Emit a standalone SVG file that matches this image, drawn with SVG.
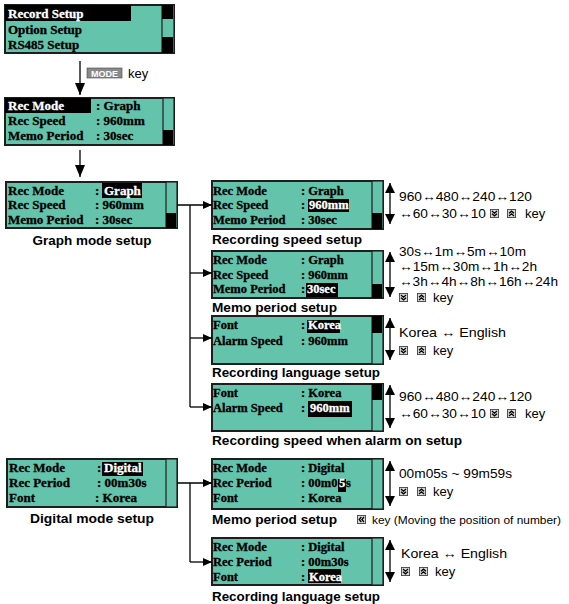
<svg xmlns="http://www.w3.org/2000/svg" xmlns:xlink="http://www.w3.org/1999/xlink" width="569" height="604" viewBox="0 0 569 604">
<style>
.lcd{fill:#64c3ab;stroke:#1e1e1e;stroke-width:2}
.sb{fill:#64c3ab;stroke:#1e1e1e;stroke-width:1.2}
.blk{fill:#000}
.t{font-family:"Liberation Serif","Times New Roman",serif;font-weight:bold;font-size:12.5px;fill:#000;stroke:#000;stroke-width:0.3}
.t1{font-size:13px}
.w{fill:#fff;stroke:#fff}
.lbl{font-family:"Liberation Sans",Arial,sans-serif;font-weight:bold;font-size:13px;fill:#000}
.note{font-family:"Liberation Sans",Arial,"DejaVu Sans",sans-serif;font-size:13px;fill:#000}
.note12{font-family:"Liberation Sans",Arial,sans-serif;font-size:11.8px;fill:#000}
.ln{stroke:#000;stroke-width:1.3;fill:none}
</style>
<defs>
<marker id="big" viewBox="0 0 12 10" refX="12" refY="5" markerWidth="12" markerHeight="10" markerUnits="userSpaceOnUse" orient="auto"><path d="M0,0 L12,5 L0,10 z"/></marker>
<marker id="sm" viewBox="0 0 9 8" refX="9" refY="4" markerWidth="9" markerHeight="8" markerUnits="userSpaceOnUse" orient="auto"><path d="M0,0 L9,4 L0,8 z"/></marker>
<marker id="dbl" viewBox="0 0 10 10" refX="10" refY="5" markerWidth="10" markerHeight="10" markerUnits="userSpaceOnUse" orient="auto-start-reverse"><path d="M0,0 L10,5 L0,10 z"/></marker>
<symbol id="kd" viewBox="0 0 10 10"><rect x="0.5" y="0.5" width="9" height="9" fill="#d8d8d8" stroke="#444" stroke-width="1"/><polyline points="2.2,2.2 5,4.6 7.8,2.2" fill="none" stroke="#000" stroke-width="1.4"/><polyline points="2.2,5.2 5,7.6 7.8,5.2" fill="none" stroke="#000" stroke-width="1.4"/></symbol>
<symbol id="ku" viewBox="0 0 10 10"><rect x="0.5" y="0.5" width="9" height="9" fill="#d8d8d8" stroke="#444" stroke-width="1"/><polyline points="2.2,4.8 5,2.4 7.8,4.8" fill="none" stroke="#000" stroke-width="1.4"/><polyline points="2.2,7.8 5,5.4 7.8,7.8" fill="none" stroke="#000" stroke-width="1.4"/></symbol>
<symbol id="kl" viewBox="0 0 10 10"><rect x="0.5" y="0.5" width="9" height="9" fill="#d8d8d8" stroke="#444" stroke-width="1"/><polyline points="4.8,2.2 2.4,5 4.8,7.8" fill="none" stroke="#000" stroke-width="1.4"/><polyline points="7.8,2.2 5.4,5 7.8,7.8" fill="none" stroke="#000" stroke-width="1.4"/></symbol>
</defs>
<rect width="569" height="604" fill="#fff"/>

<g id="menu">
<rect x="5" y="5" width="169" height="48" class="lcd"/>
<rect x="5" y="5" width="126" height="16" class="blk"/>
<rect x="162" y="5" width="12" height="48" class="sb"/>
<rect x="162" y="5" width="11" height="14" class="blk"/>
<rect x="162" y="37" width="11" height="16" class="blk"/>
<text x="8" y="18" class="t t1 w">Record Setup</text>
<text x="8" y="34" class="t t1">Option Setup</text>
<text x="8" y="49" class="t t1">RS485 Setup</text>
</g>

<g id="rec-mode">
<rect x="5" y="98" width="169" height="47" class="lcd"/>
<rect x="5" y="98" width="86" height="15" class="blk"/>
<rect x="163" y="98" width="11" height="47" class="sb"/>
<rect x="163" y="130" width="10" height="15" class="blk"/>
<text x="8" y="110" class="t t1 w">Rec Mode</text><text x="96" y="110" class="t t1">: Graph</text>
<text x="8" y="125" class="t t1">Rec Speed</text><text x="96" y="125" class="t t1">: 960mm</text>
<text x="8" y="140" class="t t1">Memo Period</text><text x="96" y="140" class="t t1">: 30sec</text>
</g>

<g id="graph-mode">
<rect x="6" y="182" width="171" height="46" class="lcd"/>
<rect x="166" y="182" width="11" height="46" class="sb"/>
<rect x="166" y="213" width="10" height="15" class="blk"/>
<rect x="102" y="183" width="40" height="15" class="blk"/>
<text x="8" y="195" class="t t1">Rec Mode</text><text x="95" y="195" class="t t1">:</text><text x="104" y="195" class="t t1 w">Graph</text>
<text x="8" y="209" class="t t1">Rec Speed</text><text x="95" y="209" class="t t1">: 960mm</text>
<text x="8" y="224" class="t t1">Memo Period</text><text x="95" y="224" class="t t1">: 30sec</text>
<text x="92" y="245" text-anchor="middle" class="lbl" textLength="119" lengthAdjust="spacingAndGlyphs">Graph mode setup</text>
</g>

<g id="rec-speed">
<rect x="212" y="181" width="171" height="48" class="lcd"/>
<rect x="372" y="181" width="11" height="48" class="sb"/>
<rect x="372" y="213" width="10" height="16" class="blk"/>
<rect x="308" y="199" width="41" height="13" class="blk"/>
<text x="213" y="195" class="t">Rec Mode</text><text x="301" y="195" class="t">: Graph</text>
<text x="213" y="209" class="t">Rec Speed</text><text x="301" y="209" class="t">:</text><text x="309" y="209" class="t w">960mm</text>
<text x="213" y="224" class="t">Memo Period</text><text x="301" y="224" class="t">: 30sec</text>
<text x="212" y="244" class="lbl" textLength="150" lengthAdjust="spacingAndGlyphs">Recording speed setup</text>
<text x="399" y="201" class="note" textLength="133" lengthAdjust="spacingAndGlyphs">960↔480↔240↔120</text>
<text x="399" y="218" class="note" textLength="87" lengthAdjust="spacingAndGlyphs">↔60↔30↔10</text>
<use xlink:href="#kd" x="490" y="209" width="9" height="9"/>
<use xlink:href="#ku" x="507" y="209" width="9" height="9"/>
<text x="525" y="218" class="note">key</text>
</g>

<g id="memo-period">
<rect x="212" y="251" width="171" height="47" class="lcd"/>
<rect x="372" y="251" width="11" height="47" class="sb"/>
<rect x="372" y="284" width="10" height="14" class="blk"/>
<rect x="306" y="283" width="32" height="14" class="blk"/>
<text x="213" y="264" class="t">Rec Mode</text><text x="301" y="264" class="t">: Graph</text>
<text x="213" y="279" class="t">Rec Speed</text><text x="301" y="279" class="t">: 960mm</text>
<text x="213" y="293" class="t">Memo Period</text><text x="301" y="293" class="t">:</text><text x="307" y="293" class="t w">30sec</text>
<text x="212" y="312" class="lbl" textLength="125" lengthAdjust="spacingAndGlyphs">Memo period setup</text>
<text x="399" y="256" class="note" textLength="127" lengthAdjust="spacingAndGlyphs">30s↔1m↔5m↔10m</text>
<text x="399" y="271" class="note" textLength="138" lengthAdjust="spacingAndGlyphs">↔15m↔30m↔1h↔2h</text>
<text x="399" y="286" class="note" textLength="159" lengthAdjust="spacingAndGlyphs">↔3h↔4h↔8h↔16h↔24h</text>
<use xlink:href="#kd" x="399" y="293" width="9" height="9"/>
<use xlink:href="#ku" x="417" y="293" width="9" height="9"/>
<text x="433" y="302" class="note">key</text>
</g>

<g id="rec-language">
<rect x="212" y="316" width="171" height="48" class="lcd"/>
<rect x="372" y="316" width="11" height="48" class="sb"/>
<rect x="372" y="316" width="10" height="17" class="blk"/>
<rect x="307" y="320" width="33" height="13" class="blk"/>
<text x="213" y="329" class="t">Font</text><text x="301" y="329" class="t">:</text><text x="308" y="329" class="t w">Korea</text>
<text x="213" y="345" class="t">Alarm Speed</text><text x="301" y="345" class="t">: 960mm</text>
<text x="212" y="377" class="lbl" textLength="168" lengthAdjust="spacingAndGlyphs">Recording language setup</text>
<text x="399" y="337" class="note" textLength="107" lengthAdjust="spacingAndGlyphs">Korea ↔ English</text>
<use xlink:href="#kd" x="399" y="346" width="9" height="9"/>
<use xlink:href="#ku" x="417" y="346" width="9" height="9"/>
<text x="433" y="355" class="note">key</text>
</g>

<g id="alarm-speed">
<rect x="212" y="384" width="171" height="47" class="lcd"/>
<rect x="372" y="384" width="11" height="47" class="sb"/>
<rect x="372" y="384" width="10" height="16" class="blk"/>
<rect x="308" y="401" width="44" height="16" class="blk"/>
<text x="213" y="397" class="t">Font</text><text x="301" y="397" class="t">: Korea</text>
<text x="213" y="412" class="t">Alarm Speed</text><text x="301" y="412" class="t">:</text><text x="310" y="412" class="t w">960mm</text>
<text x="212" y="445" class="lbl" textLength="250" lengthAdjust="spacingAndGlyphs">Recording speed when alarm on setup</text>
<text x="399" y="401" class="note" textLength="133" lengthAdjust="spacingAndGlyphs">960↔480↔240↔120</text>
<text x="399" y="418" class="note" textLength="87" lengthAdjust="spacingAndGlyphs">↔60↔30↔10</text>
<use xlink:href="#kd" x="490" y="409" width="9" height="9"/>
<use xlink:href="#ku" x="507" y="409" width="9" height="9"/>
<text x="525" y="418" class="note">key</text>
</g>

<g id="digital-mode">
<rect x="7" y="459" width="170" height="48" class="lcd"/>
<rect x="166" y="459" width="11" height="48" class="sb"/>
<rect x="102" y="462" width="41" height="14" class="blk"/>
<text x="9" y="472" class="t t1">Rec Mode</text><text x="97" y="472" class="t t1">:</text><text x="104" y="472" class="t t1 w">Digital</text>
<text x="9" y="487" class="t t1">Rec Period</text><text x="97" y="487" class="t t1">: 00m30s</text>
<text x="9" y="502" class="t t1">Font</text><text x="95" y="502" class="t t1">: Korea</text>
<text x="92" y="523" text-anchor="middle" class="lbl" textLength="124" lengthAdjust="spacingAndGlyphs">Digital mode setup</text>
</g>

<g id="digital-memo">
<rect x="212" y="459" width="171" height="50" class="lcd"/>
<rect x="372" y="459" width="11" height="50" class="sb"/>
<rect x="338" y="479" width="8" height="13" class="blk"/>
<text x="213" y="472" class="t">Rec Mode</text><text x="301" y="472" class="t">: Digital</text>
<text x="213" y="487" class="t">Rec Period</text><text x="301" y="487" class="t">: 00m0</text><text x="339" y="487" class="t w">5</text><text x="346" y="487" class="t">s</text>
<text x="213" y="502" class="t">Font</text><text x="301" y="502" class="t">: Korea</text>
<text x="212" y="524" class="lbl" textLength="125" lengthAdjust="spacingAndGlyphs">Memo period setup</text>
<use xlink:href="#kl" x="357" y="515" width="9" height="9"/>
<text x="372" y="524" class="note12" textLength="189" lengthAdjust="spacingAndGlyphs">key (Moving the position of number)</text>
<text x="399" y="478" class="note" textLength="113" lengthAdjust="spacingAndGlyphs">00m05s ~ 99m59s</text>
<use xlink:href="#kd" x="399" y="487" width="9" height="9"/>
<use xlink:href="#ku" x="417" y="487" width="9" height="9"/>
<text x="433" y="496" class="note">key</text>
</g>

<g id="digital-language">
<rect x="212" y="538" width="171" height="47" class="lcd"/>
<rect x="372" y="538" width="11" height="47" class="sb"/>
<rect x="308" y="569" width="33" height="14" class="blk"/>
<text x="213" y="551" class="t">Rec Mode</text><text x="301" y="551" class="t">: Digital</text>
<text x="213" y="566" class="t">Rec Period</text><text x="301" y="566" class="t">: 00m30s</text>
<text x="213" y="581" class="t">Font</text><text x="301" y="581" class="t">:</text><text x="309" y="581" class="t w">Korea</text>
<text x="212" y="601" class="lbl" textLength="168" lengthAdjust="spacingAndGlyphs">Recording language setup</text>
<text x="401" y="558" class="note" textLength="106" lengthAdjust="spacingAndGlyphs">Korea ↔ English</text>
<use xlink:href="#kd" x="401" y="567" width="9" height="9"/>
<use xlink:href="#ku" x="419" y="567" width="9" height="9"/>
<text x="435" y="576" class="note">key</text>
</g>

<g id="connectors">
<line x1="80" y1="61" x2="80" y2="95" class="ln" marker-end="url(#big)"/>
<rect x="87" y="68" width="35" height="10" fill="#8a8a8a" stroke="#444" stroke-width="0.6"/>
<text x="104.5" y="76.5" text-anchor="middle" font-family="Liberation Sans,Arial,sans-serif" font-weight="bold" font-size="9" fill="#fff">MODE</text>
<text x="128" y="78" class="note">key</text>
<line x1="80" y1="150" x2="80" y2="177" class="ln" marker-end="url(#big)"/>
<line x1="177" y1="205" x2="212" y2="205" class="ln" marker-end="url(#sm)"/>
<line x1="190" y1="205" x2="190" y2="407" class="ln"/>
<line x1="190" y1="273" x2="212" y2="273" class="ln" marker-end="url(#sm)"/>
<line x1="190" y1="338" x2="212" y2="338" class="ln" marker-end="url(#sm)"/>
<line x1="190" y1="407" x2="212" y2="407" class="ln" marker-end="url(#sm)"/>
<line x1="177" y1="483" x2="212" y2="483" class="ln" marker-end="url(#sm)"/>
<line x1="190" y1="483" x2="190" y2="562" class="ln"/>
<line x1="190" y1="562" x2="212" y2="562" class="ln" marker-end="url(#sm)"/>
<line x1="390" y1="183" x2="390" y2="224" class="ln" marker-start="url(#dbl)" marker-end="url(#dbl)"/>
<line x1="390" y1="252" x2="390" y2="297" class="ln" marker-start="url(#dbl)" marker-end="url(#dbl)"/>
<line x1="390" y1="318" x2="390" y2="360" class="ln" marker-start="url(#dbl)" marker-end="url(#dbl)"/>
<line x1="390" y1="385" x2="390" y2="428" class="ln" marker-start="url(#dbl)" marker-end="url(#dbl)"/>
<line x1="390" y1="461" x2="390" y2="506" class="ln" marker-start="url(#dbl)" marker-end="url(#dbl)"/>
<line x1="390" y1="540" x2="390" y2="582" class="ln" marker-start="url(#dbl)" marker-end="url(#dbl)"/>
</g>
</svg>
